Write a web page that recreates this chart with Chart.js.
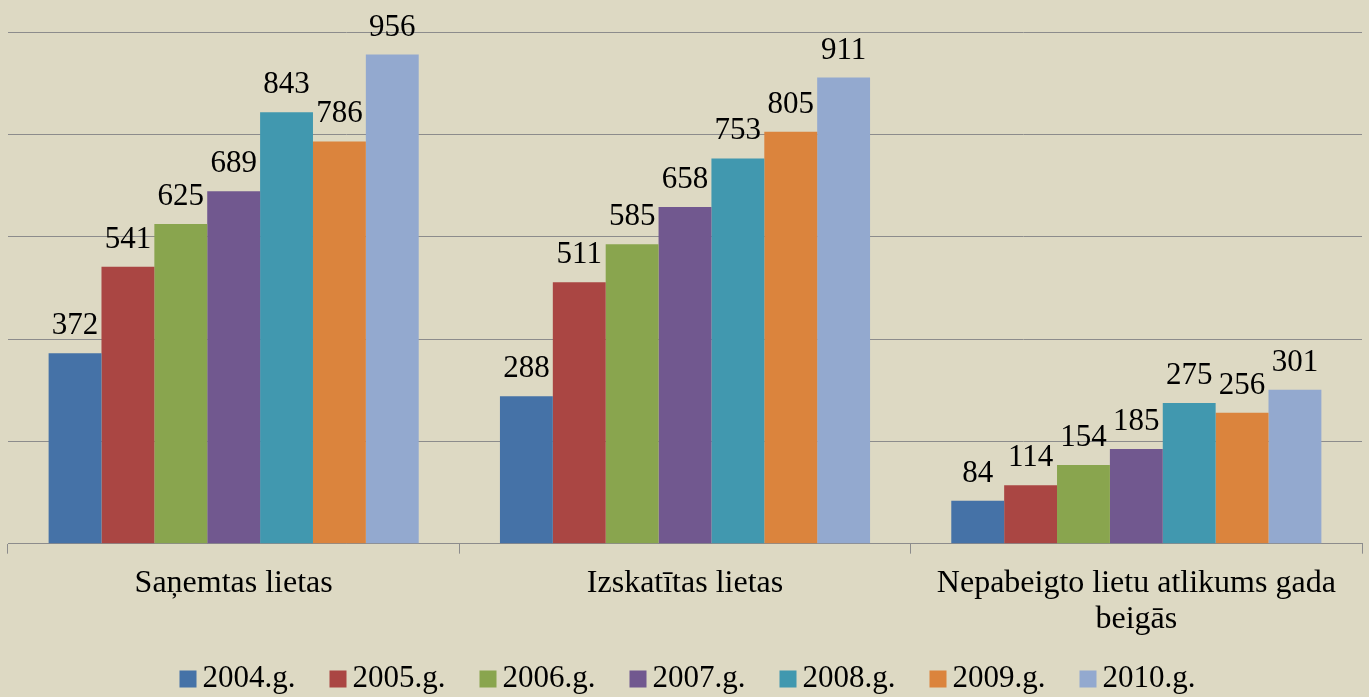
<!DOCTYPE html>
<html>
<head>
<meta charset="utf-8">
<script src="https://cdn.jsdelivr.net/npm/chart.js@4"></script>
<style>
html,body{margin:0;padding:0;background:#DDD9C3;overflow:hidden;}
#wrap{width:1369px;height:697px;position:relative;}
</style>
</head>
<body>
<div id="wrap"><canvas id="c"></canvas></div>
<script>
const categories = ["Saņemtas lietas", "Izskatītas lietas", ["Nepabeigto lietu atlikums gada", "beigās"]];
const seriesNames = ["2004.g.", "2005.g.", "2006.g.", "2007.g.", "2008.g.", "2009.g.", "2010.g."];
const v2004 = [372, 288, 84];
const v2005 = [541, 511, 114];
const v2006 = [625, 585, 154];
const v2007 = [689, 658, 185];
const v2008 = [843, 753, 275];
const v2009 = [786, 805, 256];
const v2010 = [956, 911, 301];
const seriesValues = [v2004, v2005, v2006, v2007, v2008, v2009, v2010];
const colors = ["#4572A7", "#AA4643", "#89A54E", "#71588F", "#4198AF", "#DB843D", "#93A9CF"];
const yTicksMax = 1000;
const yStep = 200;

const FONT = "'Liberation Serif', 'Times New Roman', serif";

const bgPlugin = {
  id: 'bg',
  beforeDraw(chart) {
    const ctx = chart.ctx;
    ctx.save();
    ctx.fillStyle = '#DDD9C3';
    ctx.fillRect(0, 0, chart.width, chart.height);
    ctx.restore();
  }
};

const labelPlugin = {
  id: 'vals',
  afterDatasetsDraw(chart) {
    const ctx = chart.ctx;
    ctx.save();
    ctx.font = "31px " + FONT;
    ctx.fillStyle = '#000';
    ctx.textAlign = 'center';
    ctx.textBaseline = 'alphabetic';
    chart.data.datasets.forEach((ds, i) => {
      const meta = chart.getDatasetMeta(i);
      meta.data.forEach((el, j) => {
        ctx.fillText(String(ds.data[j]), el.x, el.y - 19);
      });
    });
    ctx.restore();
  }
};

// Legend drawn below the axis, laid out like the reference (small square, tight gap to text)
const legendPlugin = {
  id: 'customLegend',
  afterDraw(chart) {
    const ctx = chart.ctx;
    ctx.save();
    ctx.font = "31px " + FONT;
    ctx.textBaseline = 'middle';
    ctx.textAlign = 'left';
    const box = 17, gapText = 6, gapItem = 34;
    const items = chart.data.datasets.map(ds => ({ text: ds.label, color: ds.backgroundColor, w: ctx.measureText(ds.label).width }));
    let total = 0;
    items.forEach((it, i) => { total += box + gapText + it.w + (i < items.length - 1 ? gapItem : 0); });
    let x = (chart.width - total) / 2 + 3;
    const cy = 679;
    items.forEach(it => {
      ctx.fillStyle = it.color;
      ctx.fillRect(x, cy - box / 2, box, box);
      ctx.fillStyle = '#000';
      ctx.fillText(it.text, x + box + gapText, cy);
      x += box + gapText + it.w + gapItem;
    });
    ctx.restore();
  }
};

new Chart(document.getElementById('c'), {
  type: 'bar',
  data: {
    labels: categories,
    datasets: seriesNames.map((n, i) => ({
      label: n,
      data: seriesValues[i],
      backgroundColor: colors[i],
      borderWidth: 0,
      categoryPercentage: 0.82,
      barPercentage: 1.0
    }))
  },
  options: {
    responsive: true,
    maintainAspectRatio: false,
    animation: false,
    layout: { padding: { left: 8, right: 7, top: 32, bottom: 47 } },
    plugins: {
      legend: { display: false },
      tooltip: { enabled: false }
    },
    scales: {
      x: {
        grid: {
          offset: true,
          drawOnChartArea: false,
          drawTicks: true,
          tickLength: 10,
          color: '#8C8C8C',
          lineWidth: 1
        },
        border: { display: true, color: '#8C8C8C', width: 1 },
        ticks: {
          font: { family: FONT, size: 32, lineHeight: 1.13 },
          color: '#000',
          padding: 12,
          maxRotation: 0,
          autoSkip: false
        }
      },
      y: {
        min: 0,
        max: yTicksMax,
        ticks: { display: false, stepSize: yStep },
        grid: { color: '#8C8C8C', lineWidth: 1, drawTicks: false },
        border: { display: false }
      }
    }
  },
  plugins: [bgPlugin, labelPlugin, legendPlugin]
});
</script>
</body>
</html>
